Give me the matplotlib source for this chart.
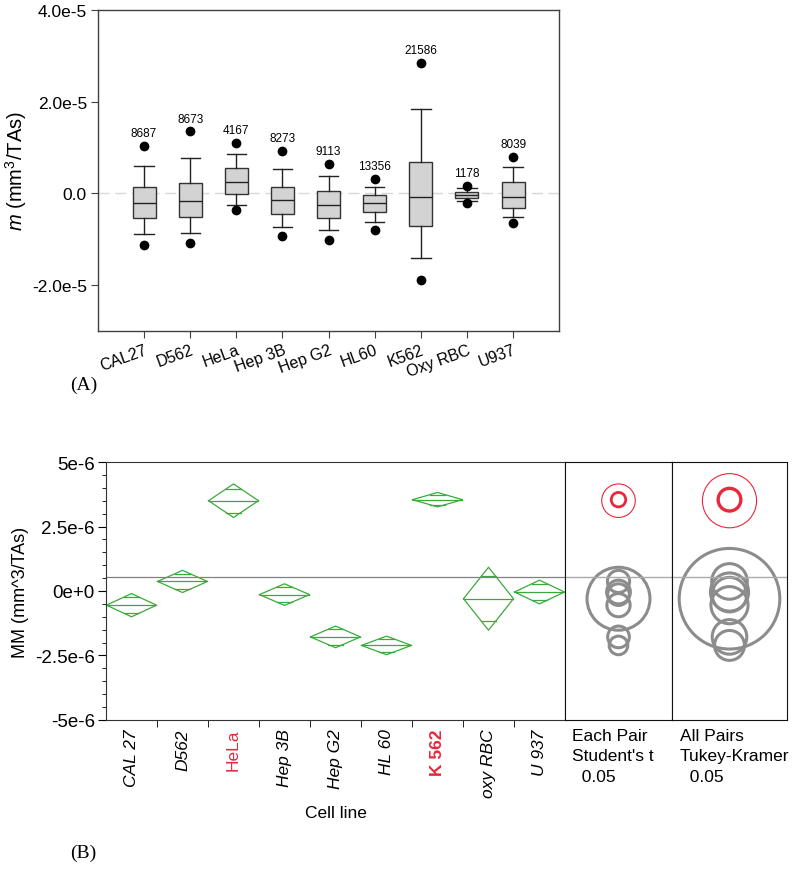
# cell line mobility figure: (A) box plots, (B) means diamonds + comparison circles

import numpy as np
import matplotlib
matplotlib.use("Agg")
import matplotlib.pyplot as plt
from matplotlib.patches import Circle

plt.rcParams['font.family'] = ['Liberation Sans', 'DejaVu Sans']
plt.rcParams['mathtext.fontset'] = 'custom'
plt.rcParams['mathtext.rm'] = 'Liberation Sans'
plt.rcParams['mathtext.it'] = 'Liberation Sans:italic'

# -----------------------------
# DATA - panel A (values in 1e-5)
# -----------------------------
box_labels = ["CAL27", "D562", "HeLa", "Hep 3B", "Hep G2", "HL60", "K562", "Oxy RBC", "U937"]
box_counts = [8687, 8673, 4167, 8273, 9113, 13356, 21586, 1178, 8039]
dot_hi = [1.03, 1.35, 1.10, 0.92, 0.65, 0.31, 2.84, 0.17, 0.79]
whisk_hi = [0.60, 0.77, 0.87, 0.53, 0.37, 0.15, 1.84, 0.12, 0.58]
q3 = [0.15, 0.23, 0.55, 0.13, 0.05, -0.03, 0.68, 0.04, 0.25]
med = [-0.20, -0.17, 0.25, -0.15, -0.25, -0.21, -0.07, -0.04, -0.07]
q1 = [-0.54, -0.52, -0.02, -0.44, -0.53, -0.41, -0.70, -0.10, -0.31]
whisk_lo = [-0.88, -0.87, -0.25, -0.74, -0.79, -0.63, -1.40, -0.16, -0.52]
dot_lo = [-1.12, -1.09, -0.37, -0.93, -1.01, -0.79, -1.88, -0.22, -0.64]

# -----------------------------
# DATA - panel B (values in 1e-6)
# -----------------------------
cell_labels = ["CAL 27", "D562", "HeLa", "Hep 3B", "Hep G2", "HL 60", "K 562", "oxy RBC", "U 937"]
mm_mean = [-0.55, 0.37, 3.50, -0.14, -1.78, -2.11, 3.54, -0.30, -0.04]
ci_half = [0.45, 0.43, 0.65, 0.42, 0.42, 0.36, 0.28, 1.22, 0.46]
tukey_r = [0.72, 0.69, 1.05, 0.67, 0.67, 0.58, 0.44, 1.95, 0.74]
grand_mean = 0.53

RED = '#e8283c'
GREEN = '#3aaa3a'
GRAY = '#8c8c8c'

fig = plt.figure(figsize=(8, 8.7), dpi=100)

# -----------------------------
# PANEL A
# -----------------------------
axA = fig.add_axes([0.1225, 0.6184, 0.5765, 0.369])
scale = 1e-5
pos = np.arange(1, len(box_labels) + 1)
stats = []
for i, lab in enumerate(box_labels):
    stats.append(dict(label=lab, med=med[i] * scale, q1=q1[i] * scale, q3=q3[i] * scale,
                      whislo=whisk_lo[i] * scale, whishi=whisk_hi[i] * scale,
                      fliers=[dot_lo[i] * scale, dot_hi[i] * scale]))

axA.axhline(0, color='#d8d8d8', lw=1, dashes=(8, 4), zorder=0)
axA.bxp(stats, positions=pos, widths=0.5, patch_artist=True,
        boxprops=dict(facecolor='#d3d3d3', edgecolor='#333333', lw=1),
        medianprops=dict(color='#222222', lw=1),
        whiskerprops=dict(color='#222222', lw=1),
        capprops=dict(color='#222222', lw=1), capwidths=0.42,
        flierprops=dict(marker='o', markerfacecolor='black', markeredgecolor='black', markersize=6))

for p, n, hi in zip(pos, box_counts, dot_hi):
    axA.annotate(str(n), (p, hi * scale), xytext=(0, 5), textcoords='offset points',
                 ha='center', va='bottom', fontsize=8.5)

axA.set_xlim(0, 10)
axA.set_ylim(-3e-5, 4e-5)
axA.set_yticks([4e-5, 2e-5, 0, -2e-5])
axA.set_yticklabels(["4.0e-5", "2.0e-5", "0.0", "-2.0e-5"], fontsize=12.5)
axA.set_xticks(pos)
axA.set_xticklabels(box_labels, rotation=20, ha='right', rotation_mode='anchor', fontsize=11.5)
axA.set_ylabel("$m$ (mm$^3$/TAs)", fontsize=14.5, labelpad=2)
for s in axA.spines.values():
    s.set_color('#404040')
    s.set_linewidth(1)
axA.tick_params(color='#404040', length=5, pad=3)

fig.text(0.088, 0.552, "(A)", family=['Liberation Serif', 'DejaVu Serif'], fontsize=14)

# -----------------------------
# PANEL B - means diamonds
# -----------------------------
axB = fig.add_axes([0.1325, 0.1713, 0.57375, 0.2965])
sc = 1e-6
xc = np.arange(len(cell_labels)) + 0.5
hw = 0.49
k = 1 - 1 / np.sqrt(2)
for x, m, h in zip(xc, mm_mean, ci_half):
    m, h = m * sc, h * sc
    axB.plot([x - hw, x, x + hw, x, x - hw], [m, m + h, m, m - h, m], color=GREEN, lw=0.9)
    axB.plot([x - hw, x + hw], [m, m], color=GREEN, lw=0.9)
    for sgn in (1, -1):
        yy = m + sgn * h / np.sqrt(2)
        axB.plot([x - hw * k, x + hw * k], [yy, yy], color=GREEN, lw=0.9)

axB.axhline(grand_mean * sc, color='#808080', lw=0.9)
axB.set_xlim(0, len(cell_labels))
axB.set_ylim(-5e-6, 5e-6)
axB.set_yticks([5e-6, 2.5e-6, 0, -2.5e-6, -5e-6])
axB.set_yticklabels(["5e-6", "2.5e-6", "0e+0", "-2.5e-6", "-5e-6"], fontsize=13.5)
axB.set_yticks(np.arange(-5e-6, 5.01e-6, 0.5e-6), minor=True)
axB.set_xticks(xc)
axB.set_xticklabels(cell_labels, rotation=90, fontsize=12.5, style='italic')
axB.set_xticks(np.arange(1, len(cell_labels)), minor=True)
axB.tick_params(axis='x', which='major', length=0, pad=6)
axB.tick_params(axis='x', which='minor', length=5)
axB.tick_params(axis='y', which='major', length=6, pad=2)
axB.tick_params(axis='y', which='minor', length=3)
tl = axB.get_xticklabels()
tl[2].set_color(RED)
tl[2].set_style('normal')
tl[6].set_color(RED)
tl[6].set_style('normal')
tl[6].set_fontweight('bold')
axB.set_ylabel("MM (mm^3/TAs)", fontsize=13, labelpad=4)
axB.set_xlabel("Cell line", fontsize=12.5, labelpad=6)
for s in axB.spines.values():
    s.set_color('#333333')

# -----------------------------
# PANEL B - comparison circles
# -----------------------------
def circle_panel(rect, radii, thin_lw, thick_lw, title):
    ax = fig.add_axes(rect)
    fw, fh = fig.get_size_inches()
    xr = 1e-5 * (rect[2] * fw) / (rect[3] * fh)
    ax.set_xlim(-xr / 2, xr / 2)
    ax.set_ylim(-5e-6, 5e-6)
    ax.axhline(grand_mean * sc, color='#aaaaaa', lw=1)
    for i, (m, r) in enumerate(zip(mm_mean, radii)):
        if i in (2, 6):
            continue
        ax.add_patch(Circle((0, m * sc), r * sc, fill=False, ec=GRAY, lw=2.2))
    ax.add_patch(Circle((0, mm_mean[2] * sc), radii[2] * sc, fill=False, ec=RED, lw=thin_lw))
    ax.add_patch(Circle((0, mm_mean[6] * sc), radii[6] * sc, fill=False, ec=RED, lw=thick_lw))
    ax.set_xticks([])
    ax.set_yticks([])
    for s in ax.spines.values():
        s.set_color('#111111')
    ax.text(0.07, -0.03, title, transform=ax.transAxes, ha='left', va='top',
            fontsize=12.5, linespacing=1.45)
    return ax

circle_panel([0.70625, 0.1713, 0.13375, 0.2965], ci_half, 0.8, 2.0,
             "Each Pair\nStudent's t\n  0.05")
circle_panel([0.84, 0.1713, 0.14375, 0.2965], tukey_r, 0.8, 2.4,
             "All Pairs\nTukey-Kramer\n  0.05")

fig.text(0.088, 0.014, "(B)", family=['Liberation Serif', 'DejaVu Serif'], fontsize=14)

plt.savefig("out.png", dpi=100)
